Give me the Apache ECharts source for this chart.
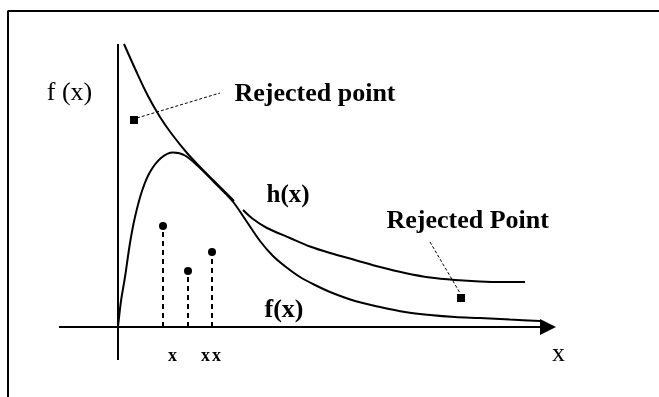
<!DOCTYPE html>
<html>
<head>
  <meta charset="utf-8"/>
  <title>Rejection sampling</title>
  <script src="https://cdn.jsdelivr.net/npm/echarts@6/dist/echarts.min.js"></script>
  <style>
    html, body { margin: 0; padding: 0; background: #fff; }
    #container { width: 659px; height: 397px; }
  </style>
</head>
<body>
  <div id="container"></div>
  <script type="text/javascript">
    // target density f(x)
    var fCurve = [[0,0],[0.3,2.6],[0.7,5.0],[1.2,8.4],[1.7,11.0],[2.4,13.6],[3.2,15.5],
      [4.3,16.9],[5.5,17.45],[6.7,17.15],[8.2,15.9],[9.5,14.6],[10.6,13.5],
      [11.6,12.4],[12.9,10.5],[14.2,8.6],[15.5,7.1],[16.8,6.0],[18.2,5.0],[19.7,4.2],
      [21.2,3.5],[23.7,2.6],[26.2,2.0],[28.7,1.5],[31.2,1.2],[33.7,1.0],[36.2,0.9],
      [39.2,0.75],[42.2,0.6]];
    // envelope h(x), with the small break where f leaves it
    var hCurve = [[0.6,28.3],[1.9,25.4],[3.0,23.1],[4.2,21.0],[5.3,19.4],[6.9,17.4],
      [8.2,16.0],[9.5,14.7],[10.6,13.6],[11.6,12.6],[12.0,null],[12.5,11.7],[13.5,10.8],
      [14.9,9.9],[17.2,8.9],[19.2,8.05],[21.2,7.4],[23.7,6.7],[26.2,6.0],[28.7,5.4],
      [31.2,4.95],[33.7,4.7],[36.2,4.55],[38.5,4.5],[40.7,4.5]];
    // accepted samples x and their heights
    var sampleX = [4.5, 7.0, 9.4];
    var sampleY = [10.1, 5.6, 7.5];
    // rejected points and the ends of their pointer lines
    var rejected = [[1.6,20.7],[34.3,2.9]];
    var pointerFrom = [[1.9,20.9],[31.2,8.5]];
    var pointerTo = [[10.2,23.4],[34.2,3.4]];
    // axes extents
    var xAxisLine = [[-5.9,0],[43.0,0]];
    var yAxisLine = [[0,28.3],[0,-3.3]];
    var frame = [[-11,-8],[-11,31.6],[55,31.6]];
    // text annotations
    var noteText = ['f (x)', 'Rejected point', 'h(x)', 'Rejected Point', 'f(x)', 'x', 'x', 'x', 'x'];
    var notePos = [[-4.8,23.3],[11.7,23.2],[14.9,13.05],[26.9,10.55],[14.7,1.6],[5.5,-3.0],[8.8,-3.0],[9.9,-3.0],[44.1,-2.8]];
    var noteBold = [false, true, true, true, true, true, true, true, false];
    var noteSize = [26, 26, 25, 26, 26, 18, 18, 18, 26];
    var noteAlign = ['center', 'left', 'left', 'left', 'left', 'center', 'center', 'center', 'center'];

    var serif = "'Liberation Serif', 'Times New Roman', serif";

    var stems = [];
    for (var i = 0; i < sampleX.length; i++) {
      stems.push({ coords: [[sampleX[i], 0], [sampleX[i], sampleY[i]]] });
    }
    var dots = sampleX.map(function (x, i) { return [x, sampleY[i]]; });

    var notes = noteText.map(function (t, i) {
      return {
        value: notePos[i],
        label: {
          show: true,
          formatter: t,
          position: [0, 0],
          align: noteAlign[i],
          verticalAlign: 'middle',
          fontFamily: serif,
          fontWeight: noteBold[i] ? 'bold' : 'normal',
          fontSize: noteSize[i],
          color: '#000'
        }
      };
    });

    var myChart = echarts.init(document.getElementById('container'));
    var option = {
      animation: false,
      backgroundColor: '#fff',
      grid: { left: 0, right: 0, top: 0, bottom: 0 },
      xAxis: { type: 'value', min: -11.8, max: 54.1, show: false },
      yAxis: { type: 'value', min: -7, max: 32.7, show: false },
      series: [
        {
          type: 'line', data: frame, symbol: 'none',
          lineStyle: { color: '#000', width: 2 }
        },
        {
          type: 'line', data: yAxisLine, symbol: 'none',
          lineStyle: { color: '#000', width: 2 }
        },
        {
          type: 'lines', coordinateSystem: 'cartesian2d',
          symbol: ['none', 'triangle'], symbolSize: 16,
          lineStyle: { color: '#000', width: 2, opacity: 1 },
          itemStyle: { color: '#000' },
          data: [{ coords: xAxisLine }]
        },
        {
          name: 'h(x)', type: 'line', data: hCurve, symbol: 'none',
          smooth: 0.3,
          lineStyle: { color: '#000', width: 2 }
        },
        {
          name: 'f(x)', type: 'line', data: fCurve, symbol: 'none',
          smooth: 0.3,
          lineStyle: { color: '#000', width: 2 }
        },
        {
          type: 'lines', coordinateSystem: 'cartesian2d',
          lineStyle: { color: '#000', width: 2, type: [5, 4], opacity: 1 },
          data: stems
        },
        {
          type: 'scatter', data: dots, symbol: 'circle', symbolSize: 8,
          itemStyle: { color: '#000', opacity: 1 }
        },
        {
          type: 'lines', coordinateSystem: 'cartesian2d',
          lineStyle: { color: '#000', width: 1, type: [3, 2], opacity: 1 },
          data: pointerFrom.map(function (p, i) { return { coords: [p, pointerTo[i]] }; })
        },
        {
          type: 'scatter', data: rejected, symbol: 'rect', symbolSize: 8,
          itemStyle: { color: '#000', opacity: 1 }
        },
        {
          type: 'scatter', data: notes, symbol: 'circle', symbolSize: 1,
          itemStyle: { color: 'rgba(0,0,0,0)', opacity: 1 }, silent: true
        }
      ]
    };
    myChart.setOption(option);
  </script>
</body>
</html>
